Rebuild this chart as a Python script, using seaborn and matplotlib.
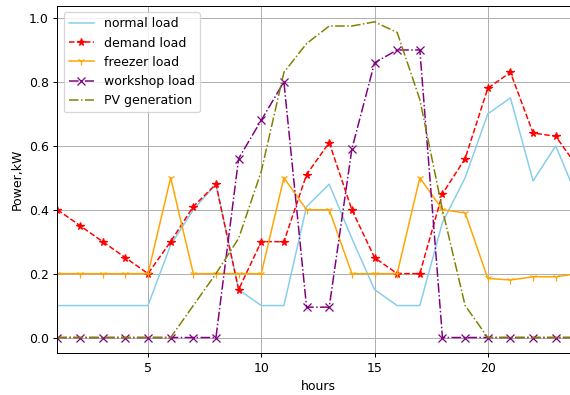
import numpy as np
import pandas as pd
import seaborn as sns
import matplotlib
matplotlib.use('Agg')
import matplotlib.pyplot as plt

# hourly values
hours = list(range(1, 25))
normal_load = [0.1, 0.1, 0.1, 0.1, 0.1, 0.29, 0.4, 0.48, 0.15, 0.1, 0.1, 0.41,
               0.48, 0.31, 0.15, 0.1, 0.1, 0.36, 0.5, 0.7, 0.75, 0.49, 0.6, 0.43]
demand_load = [0.4, 0.35, 0.3, 0.25, 0.2, 0.3, 0.41, 0.48, 0.15, 0.3, 0.3, 0.51,
               0.61, 0.4, 0.25, 0.2, 0.2, 0.45, 0.56, 0.78, 0.83, 0.64, 0.63, 0.53]
freezer_load = [0.2, 0.2, 0.2, 0.2, 0.2, 0.5, 0.2, 0.2, 0.2, 0.2, 0.5, 0.4,
                0.4, 0.2, 0.2, 0.2, 0.5, 0.4, 0.39, 0.185, 0.18, 0.19, 0.19, 0.2]
workshop_load = [0, 0, 0, 0, 0, 0, 0, 0, 0.56, 0.68, 0.8, 0.095,
                 0.095, 0.59, 0.86, 0.9, 0.9, 0, 0, 0, 0, 0, 0, 0]
pv_generation = [0, 0, 0, 0, 0, 0, 0.1, 0.2, 0.31, 0.52, 0.83, 0.92,
                 0.975, 0.975, 0.988, 0.955, 0.745, 0.4, 0.1, 0, 0, 0, 0, 0]

df = pd.DataFrame({'hours': hours, 'normal': normal_load, 'demand': demand_load,
                   'freezer': freezer_load, 'workshop': workshop_load, 'pv': pv_generation})

# rendered at 90 dpi so text/markers come out a bit smaller, like the reference
fig = plt.figure(figsize=(570 / 90, 395 / 90), dpi=90)
# axes runs slightly past the right edge (reference is cropped there)
ax = fig.add_axes([0.1007, 0.1056, 0.914, 0.879])

lw = 1.2
sns.lineplot(data=df, x='hours', y='normal', color='skyblue', lw=lw,
             label='normal load', ax=ax)
sns.lineplot(data=df, x='hours', y='demand', color='red', linestyle='--', marker='*',
             ms=6, mec='red', mew=1, lw=lw, label='demand load', ax=ax)
sns.lineplot(data=df, x='hours', y='freezer', color='orange', marker='1',
             mec='orange', mew=1, lw=lw, label='freezer load', ax=ax)
sns.lineplot(data=df, x='hours', y='workshop', color='purple', linestyle='-.', marker='x',
             mec='purple', mew=1, lw=lw, label='workshop load', ax=ax)
sns.lineplot(data=df, x='hours', y='pv', color='olive', linestyle='-.', lw=lw,
             label='PV generation', ax=ax)

ax.set_xlim(1, 24)
ax.set_xticks([5, 10, 15, 20])
ax.set_xlabel('hours')
ax.set_ylabel('Power,kW')
ax.grid(True)
ax.legend(loc='upper left')

fig.savefig('out.png', dpi=90)
